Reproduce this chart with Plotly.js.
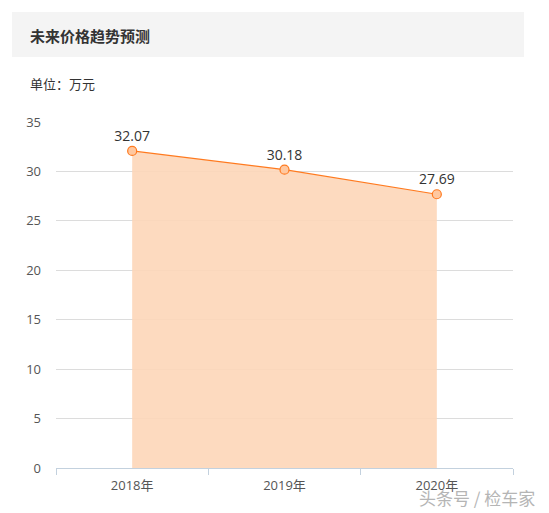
<!DOCTYPE html>
<html>
<head>
<meta charset="utf-8">
<script src="https://cdn.plot.ly/plotly-3.0.1.min.js"></script>
<style>
  body { margin: 0; background: #fff; }
  #chart { width: 549px; height: 513px; }
</style>
</head>
<body>
<div id="chart"></div>
<script>
const years = ["2018年", "2019年", "2020年"];
const prices = [32.07, 30.18, 27.69];
const priceLabels = ["32.07", "30.18", "27.69"];

const font = "'Open Sans', 'Noto Sans CJK SC', sans-serif";

let trend = {
  x: years,
  y: prices,
  text: priceLabels,
  type: "scatter",
  mode: "lines+markers+text",
  textposition: "top center",
  textfont: {size: 14, color: "#333"},
  fill: "tozeroy",
  fillcolor: "rgba(253,214,184,0.9)",
  line: {color: "#ff7a1f", width: 1.2},
  marker: {size: 9, color: "#ffc8a0", line: {color: "#ff7a1f", width: 1.2}},
  hoverinfo: "x+y",
  showlegend: false,
  cliponaxis: false,
};

let layout = {
  width: 549,
  height: 513,
  margin: {l: 56, r: 36, t: 122, b: 45},
  paper_bgcolor: "#fff",
  plot_bgcolor: "#fff",
  font: {family: font, color: "#555"},
  xaxis: {
    type: "category",
    range: [-0.5, 2.5],
    showgrid: false,
    showline: true,
    linecolor: "#c3d1de",
    linewidth: 1,
    ticks: "outside",
    tickson: "boundaries",
    tickcolor: "#c3d1de",
    ticklen: 6,
    ticklabelstandoff: 5,
    tickfont: {size: 13, color: "#555"},
    fixedrange: true,
  },
  yaxis: {
    range: [0, 35],
    dtick: 5,
    showgrid: true,
    gridcolor: "#dcdcdc",
    zeroline: false,
    showline: false,
    ticks: "",
    ticklabelstandoff: 14,
    tickfont: {size: 13, color: "#555"},
    fixedrange: true,
  },
  shapes: [{
    type: "rect", xref: "paper", yref: "paper", layer: "below",
    x0: -44 / 457, x1: 468 / 457, y0: (468 - 57) / 346, y1: (468 - 12) / 346,
    fillcolor: "#f4f4f4", line: {width: 0},
  }],
  annotations: [
    {
      text: "<b>未来价格趋势预测</b>", xref: "paper", yref: "paper",
      x: -28 / 457, y: (468 - 35) / 346, xanchor: "left", yanchor: "middle",
      showarrow: false, font: {size: 15, color: "#333", family: "'Noto Sans CJK SC', sans-serif"},
    },
    {
      text: "单位：万元", xref: "paper", yref: "paper",
      x: -28 / 457, y: (468 - 83) / 346, xanchor: "left", yanchor: "middle",
      showarrow: false, font: {size: 13, color: "#333", family: "'Noto Sans CJK SC', sans-serif"},
    },
    {
      text: "头条号 / 检车家", xref: "paper", yref: "paper",
      x: 481 / 457, y: (468 - 497) / 346, xanchor: "right", yanchor: "middle",
      showarrow: false, font: {size: 17, color: "#b5b5b5", family: "'Noto Sans CJK SC', sans-serif"},
    },
  ],
};

Plotly.newPlot("chart", [trend], layout, {
  displaylogo: false,
  displayModeBar: false,
  staticPlot: true,
});
</script>
</body>
</html>
